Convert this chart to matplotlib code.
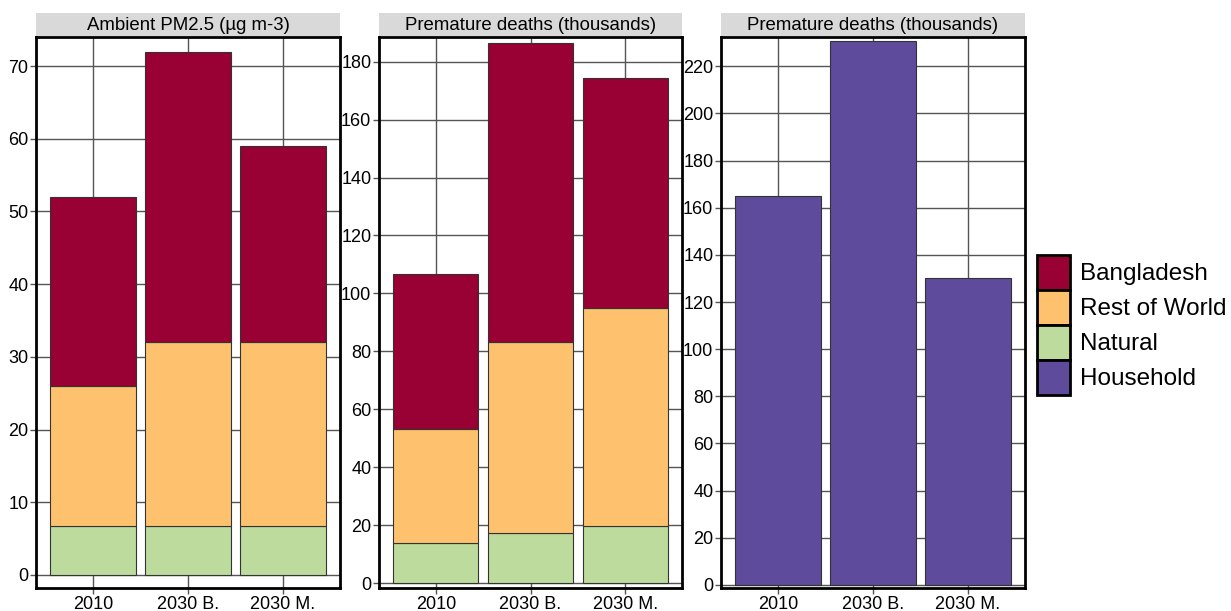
import matplotlib.pyplot as plt
from matplotlib.patches import Patch
import numpy as np

plt.rcParams['font.family'] = ['Liberation Sans', 'DejaVu Sans']

categories = ["2010", "2030 B.", "2030 M."]

# Ambient PM2.5 (ug m-3) by source
pm_natural = [6.7, 6.7, 6.7]
pm_rest_of_world = [19.3, 25.3, 25.3]
pm_bangladesh = [26.0, 40.0, 27.0]

# Premature deaths from ambient exposure (thousands)
amb_natural = [13.7, 17.3, 19.8]
amb_rest_of_world = [39.5, 65.9, 75.2]
amb_bangladesh = [53.5, 103.3, 79.5]

# Premature deaths from household exposure (thousands)
household = [165.0, 230.5, 130.0]

colors = {
    "Bangladesh": "#990033",
    "Rest of World": "#fec26f",
    "Natural": "#bcdb9c",
    "Household": "#5f4b9b",
}

W, H = 1231, 611
fig = plt.figure(figsize=(W / 100, H / 100), dpi=100)

def px_axes(x0, x1, y0, y1):
    return fig.add_axes([x0 / W, 1 - y1 / H, (x1 - x0) / W, (y1 - y0) / H])

panels = [
    dict(x=(36, 340), title="Ambient PM2.5 (\u00b5g m-3)", ylim=(-1.8, 74.0), step=10,
         stacks=[("Natural", pm_natural), ("Rest of World", pm_rest_of_world),
                 ("Bangladesh", pm_bangladesh)]),
    dict(x=(379, 682), title="Premature deaths (thousands)", ylim=(-1.7, 188.5), step=20,
         stacks=[("Natural", amb_natural), ("Rest of World", amb_rest_of_world),
                 ("Bangladesh", amb_bangladesh)]),
    dict(x=(721, 1025), title="Premature deaths (thousands)", ylim=(-1.3, 232.4), step=20,
         stacks=[("Household", household)]),
]

xpos = np.arange(1, len(categories) + 1)

for p in panels:
    x0, x1 = p["x"]
    ax = px_axes(x0, x1, 37, 588)
    bottom = np.zeros(len(categories))
    for name, vals in p["stacks"]:
        ax.bar(xpos, vals, width=0.9, bottom=bottom, color=colors[name],
               edgecolor="#333333", linewidth=0.8, zorder=3)
        bottom += np.array(vals)
    ax.set_xlim(0.4, 3.6)
    ax.set_ylim(*p["ylim"])
    ax.set_yticks(np.arange(0, p["ylim"][1], p["step"]))
    ax.set_xticks(xpos)
    ax.set_xticklabels(categories)
    ax.grid(True, color="#555555", linewidth=1.0, zorder=0)
    ax.set_axisbelow(True)
    for s in ax.spines.values():
        s.set_linewidth(2.0)
        s.set_color("black")
    ax.tick_params(axis="both", labelsize=13, length=4, width=1.0,
                   color="#555555", pad=1.5, labelcolor="black")

    # facet strip
    strip = px_axes(x0, x1, 13, 36)
    strip.set_facecolor("#d9d9d9")
    strip.set_xticks([])
    strip.set_yticks([])
    for s in strip.spines.values():
        s.set_visible(False)
    strip.text(0.5, 0.45, p["title"], ha="center", va="center", fontsize=13.4,
               transform=strip.transAxes)

handles = [Patch(facecolor=colors[k], edgecolor="black", linewidth=2.0, label=k)
           for k in ["Bangladesh", "Rest of World", "Natural", "Household"]]
fig.legend(handles=handles, loc="center left", bbox_to_anchor=(1037 / W, 1 - 325 / H),
           frameon=False, fontsize=17.5, handlelength=1.36, handleheight=1.84,
           labelspacing=0.0, handletextpad=0.41, borderpad=0.0, borderaxespad=0.0)

fig.savefig("out.png", dpi=100)
